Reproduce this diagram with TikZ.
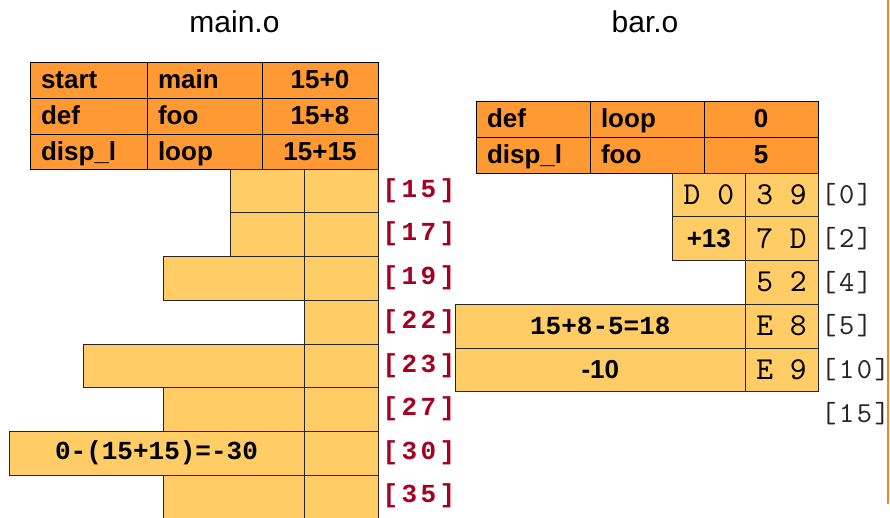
\documentclass[tikz,border=0pt]{standalone}
\usepackage{fontspec}
\setmainfont{Liberation Sans}
\setmonofont{Liberation Mono}
\newfontfamily\labmono[LetterSpace=13]{Liberation Mono}
\newfontfamily\lmhex[Extension=.otf]{lmmono10-regular}
\newfontfamily\lmlab[Extension=.otf, LetterSpace=9]{lmmono10-regular}
\definecolor{hdr}{RGB}{255,153,51}
\definecolor{cellc}{RGB}{255,204,102}
\definecolor{labred}{RGB}{165,0,33}
\definecolor{rulec}{RGB}{245,135,30}
\begin{document}
\begin{tikzpicture}[x=1pt,y=-1pt,
  box/.style={draw=black, line width=1pt, anchor=north west, inner sep=0pt, outer sep=0pt},
  hbox/.style={box, fill=hdr, font=\fontsize{26}{26}\selectfont\bfseries, text height=20pt, text depth=3pt, minimum height=36pt},
  hlbox/.style={hbox, inner xsep=11pt, align=left},
  cbox/.style={box, fill=cellc, draw=black!85},
  hexf/.style={font=\fontsize{32}{32}\selectfont\lmhex},
  bmono/.style={font=\fontsize{26}{26}\selectfont\ttfamily\bfseries},
  bsans/.style={font=\fontsize{26}{26}\selectfont\bfseries},
  redlab/.style={font=\fontsize{26}{26}\selectfont\labmono\bfseries, text=labred, inner sep=0pt},
  blklab/.style={font=\fontsize{29}{29}\selectfont\lmlab, text=black!85, inner sep=0pt, anchor=west},
  title/.style={font=\fontsize{30}{30}\selectfont, anchor=base, inner sep=0pt}
]
\clip (0,0) rectangle (890,517);
\useasboundingbox (0,0) rectangle (890,517);

% titles
\node[title] (tmain) at (234.5,32) {main.o};
\node[title] (tbar) at (645,32) {bar.o};

% main.o header table
\node[hlbox, text width=95pt] (m11) at (30,62) {start};
\node[hlbox, text width=93pt] (m12) at (147,62) {main};
\node[hbox, minimum width=116pt] (m13) at (262,62) {15+0};
\node[hlbox, text width=95pt] (m21) at (30,98) {def};
\node[hlbox, text width=93pt] (m22) at (147,98) {foo};
\node[hbox, minimum width=116pt] (m23) at (262,98) {15+8};
\node[hlbox, text width=95pt, minimum height=35pt] (m31) at (30,134) {disp\_l};
\node[hlbox, text width=93pt, minimum height=35pt] (m32) at (147,134) {loop};
\node[hbox, minimum width=116pt, minimum height=35pt] (m33) at (262,134) {15+15};

% main.o stack: left cells
\node[cbox, minimum width=74pt, minimum height=43.5pt] (a1) at (230,169) {};
\node[cbox, minimum width=74pt, minimum height=43.5pt] (a2) at (230,212.5) {};
\node[cbox, minimum width=141pt, minimum height=44pt] (a3) at (163,256) {};
\node[cbox, minimum width=221pt, minimum height=43.5pt] (a5) at (83,344) {};
\node[cbox, minimum width=141pt, minimum height=43.5pt] (a6) at (163,387.5) {};
\node[cbox, minimum width=295pt, minimum height=44pt, bmono] (a7) at (9,431) {0-(15+15)=-30};
\node[cbox, minimum width=141pt, minimum height=55pt] (a8) at (163,475) {};
% main.o stack: right cells
\node[cbox, minimum width=74pt, minimum height=43.5pt] (b1) at (304,169) {};
\node[cbox, minimum width=74pt, minimum height=43.5pt] (b2) at (304,212.5) {};
\node[cbox, minimum width=74pt, minimum height=44pt] (b3) at (304,256) {};
\node[cbox, minimum width=74pt, minimum height=44pt] (b4) at (304,300) {};
\node[cbox, minimum width=74pt, minimum height=43.5pt] (b5) at (304,344) {};
\node[cbox, minimum width=74pt, minimum height=43.5pt] (b6) at (304,387.5) {};
\node[cbox, minimum width=74pt, minimum height=44pt] (b7) at (304,431) {};
\node[cbox, minimum width=74pt, minimum height=55pt] (b8) at (304,475) {};

% main.o offsets
\node[redlab] (o15) at (419,190.75) {[15]};
\node[redlab] (o17) at (419,234.25) {[17]};
\node[redlab] (o19) at (419,278) {[19]};
\node[redlab] (o22) at (419,322) {[22]};
\node[redlab] (o23) at (419,365.75) {[23]};
\node[redlab] (o27) at (419,409.25) {[27]};
\node[redlab] (o30) at (419,453) {[30]};
\node[redlab] (o35) at (419,496) {[35]};

% bar.o header table
\node[hlbox, text width=92pt] (n11) at (476,101) {def};
\node[hlbox, text width=92pt] (n12) at (590,101) {loop};
\node[hbox, minimum width=114pt] (n13) at (704,101) {0};
\node[hlbox, text width=92pt] (n21) at (476,137) {disp\_l};
\node[hlbox, text width=92pt] (n22) at (590,137) {foo};
\node[hbox, minimum width=114pt] (n23) at (704,137) {5};

% bar.o stack: left cells
\node[cbox, minimum width=72.3pt, minimum height=43.7pt, hexf] (c1) at (672.7,173) {D 0};
\node[cbox, minimum width=72.3pt, minimum height=43.6pt, bsans] (c2) at (672.7,216.7) {+13};
\node[cbox, minimum width=289.3pt, minimum height=44pt, bmono] (c4) at (455.7,304) {15+8-5=18};
\node[cbox, minimum width=289.3pt, minimum height=43.3pt, bsans] (c5) at (455.7,348) {-10};
% bar.o stack: right cells
\node[cbox, minimum width=73pt, minimum height=43.7pt, hexf] (d1) at (745,173) {3 9};
\node[cbox, minimum width=73pt, minimum height=43.6pt, hexf] (d2) at (745,216.7) {7 D};
\node[cbox, minimum width=73pt, minimum height=43.7pt, hexf] (d3) at (745,260.3) {5 2};
\node[cbox, minimum width=73pt, minimum height=44pt, hexf] (d4) at (745,304) {E 8};
\node[cbox, minimum width=73pt, minimum height=43.3pt, hexf] (d5) at (745,348) {E 9};

% bar.o offsets
\node[blklab] (p0) at (821,194.8) {[0]};
\node[blklab] (p2) at (821,238.5) {[2]};
\node[blklab] (p4) at (821,282.2) {[4]};
\node[blklab] (p5) at (821,326) {[5]};
\node[blklab] (p10) at (821,369.7) {[10]};
\node[blklab] (p15) at (821,413.3) {[15]};

% orange edge line
\coordinate (etop) at (888,0);
\coordinate (ebot) at (888,504);
\draw[rulec, line width=2.5pt] (etop) -- (ebot);
\end{tikzpicture}
\end{document}
